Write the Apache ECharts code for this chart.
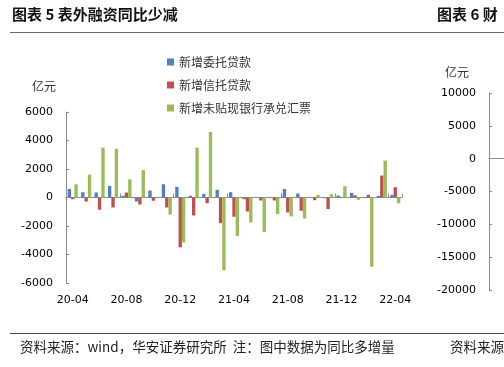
<!DOCTYPE html>
<html>
<head>
<meta charset="utf-8">
<style>
  html, body { margin: 0; padding: 0; background: #fff; }
  #chart { width: 504px; height: 367px; }
</style>
<script src="https://cdn.jsdelivr.net/npm/echarts@6/dist/echarts.min.js"></script>
</head>
<body>
<div id="chart"></div>
<script>
var months = ['20-04', '20-05', '20-06', '20-07', '20-08', '20-09', '20-10', '20-11', '20-12',
    '21-01', '21-02', '21-03', '21-04', '21-05', '21-06', '21-07', '21-08', '21-09', '21-10',
    '21-11', '21-12', '22-01', '22-02', '22-03', '22-04'];

// 新增委托贷款
var entrusted = [600, 370, 350, 820, 120, -280, 490, 930, 745, 120, 250, 540, 370, -120,
    10, 10, 600, 280, 30, -50, 140, 326, 20, 116, 190];
// 新增信托贷款
var trust = [-120, -280, -860, -700, 350, -490, -230, -700, -3500, -1260, -400, -1800, -1350,
    -980, -210, -210, -1050, -930, -190, -815, -30, 163, 190, 1540, 720];
// 新增未贴现银行承兑汇票
var bankAccept = [930, 1600, 3500, 3420, 1280, 1930, 0, -1190, -3150, 3500, 4600, -5100, -2700,
    -1750, -2420, -1165, -1330, -1470, 190, 230, 790, -163, -4850, 2590, -400];

var seriesNames = ['新增委托贷款', '新增信托贷款', '新增未贴现银行承兑汇票'];
var colors = ['#4F81BD', '#C0504D', '#9BBB59'];

var chart = echarts.init(document.getElementById('chart'));

var numFont = 'DejaVu Sans';
var cjkFont = 'Noto Sans CJK SC';

function plainNum(v) {
    return String(v);
}

function barSeries(i, data) {
    return {
        name: seriesNames[i],
        type: 'bar',
        data: data,
        xAxisIndex: 0,
        yAxisIndex: 0,
        barGap: '0%',
        barCategoryGap: '25%',
        itemStyle: { color: colors[i] },
        silent: true
    };
}

var option = {
    animation: false,
    color: colors,
    legend: {
        orient: 'vertical',
        left: 162,
        top: 51,
        itemWidth: 7,
        itemHeight: 7,
        itemGap: 11,
        icon: 'rect',
        textStyle: { fontFamily: cjkFont, fontSize: 12, color: '#333' },
        data: seriesNames
    },
    grid: [
        { left: 66, right: 102, top: 112, bottom: 84 },
        { left: 489, width: 200, top: 93, bottom: 77 }
    ],
    xAxis: [
        {
            type: 'category',
            gridIndex: 0,
            data: months,
            position: 'bottom',
            axisLine: { show: false, onZero: false },
            axisTick: { show: false },
            axisLabel: {
                interval: 3,
                fontFamily: numFont,
                fontSize: 11,
                color: '#000',
                margin: 12
            }
        },
        {
            type: 'category',
            gridIndex: 0,
            data: months,
            position: 'bottom',
            axisLine: { show: true, onZero: true, lineStyle: { color: '#8c8c8c', width: 1 } },
            axisTick: { show: true, inside: true, length: 4, interval: 3, lineStyle: { color: '#8c8c8c' } },
            axisLabel: { show: false }
        },
        {
            type: 'category',
            gridIndex: 1,
            data: [''],
            axisLine: { show: true, onZero: true, lineStyle: { color: '#8c8c8c', width: 1 } },
            axisTick: { show: false },
            axisLabel: { show: false }
        }
    ],
    yAxis: [
        {
            type: 'value',
            gridIndex: 0,
            min: -6000,
            max: 6000,
            interval: 2000,
            splitLine: { show: false },
            axisLine: { show: true, lineStyle: { color: '#8c8c8c' } },
            axisTick: { show: true, inside: true, length: 3, lineStyle: { color: '#8c8c8c' } },
            axisLabel: { fontFamily: numFont, fontSize: 11, color: '#000', margin: 13, formatter: plainNum }
        },
        {
            type: 'value',
            gridIndex: 1,
            min: -20000,
            max: 10000,
            interval: 5000,
            splitLine: { show: false },
            axisLine: { show: true, lineStyle: { color: '#8c8c8c' } },
            axisTick: { show: true, inside: true, length: 3, lineStyle: { color: '#8c8c8c' } },
            axisLabel: { fontFamily: numFont, fontSize: 11, color: '#000', margin: 13, formatter: plainNum }
        }
    ],
    series: [
        barSeries(0, entrusted),
        barSeries(1, trust),
        barSeries(2, bankAccept)
    ],
    graphic: [
        {
            type: 'text', left: 12, top: 7,
            style: { text: '图表 5 表外融资同比少减', fontFamily: cjkFont, fontWeight: 'bold', fontSize: 15, fill: '#111' }
        },
        {
            type: 'text', left: 437, top: 7,
            style: { text: '图表 6 财', fontFamily: cjkFont, fontWeight: 'bold', fontSize: 15, fill: '#111' }
        },
        {
            type: 'line', shape: { x1: 10, y1: 32.5, x2: 504, y2: 32.5 },
            style: { stroke: '#666', lineWidth: 1 }
        },
        {
            type: 'text', left: 32, top: 80,
            style: { text: '亿元', fontFamily: cjkFont, fontSize: 12, fill: '#333' }
        },
        {
            type: 'text', left: 445, top: 66,
            style: { text: '亿元', fontFamily: cjkFont, fontSize: 12, fill: '#333' }
        },
        {
            type: 'line', shape: { x1: 10, y1: 333.5, x2: 504, y2: 333.5 },
            style: { stroke: '#444', lineWidth: 1 }
        },
        {
            type: 'text', left: 20, top: 340,
            style: { text: '资料来源：wind，华安证券研究所  注：图中数据为同比多增量', fontFamily: cjkFont, fontSize: 13.5, fill: '#222' }
        },
        {
            type: 'text', left: 450, top: 340,
            style: { text: '资料来源', fontFamily: cjkFont, fontSize: 13.5, fill: '#222' }
        }
    ]
};

chart.setOption(option);
</script>
</body>
</html>
